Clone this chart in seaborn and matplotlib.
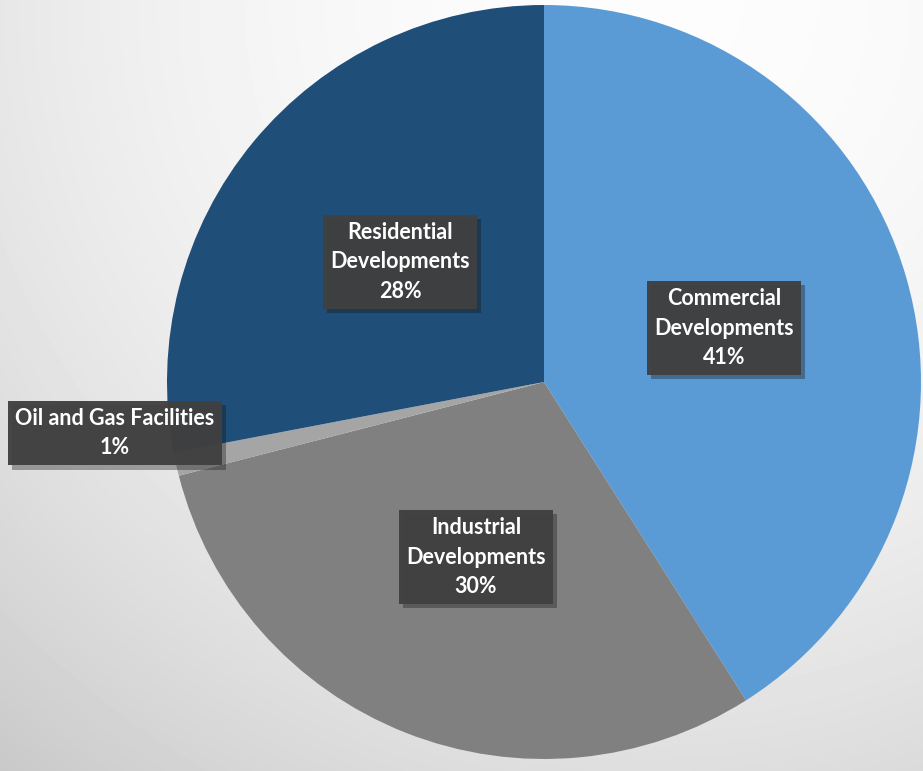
""" Share of developments by sector, pie chart """

import numpy as np
import matplotlib.pyplot as plt
import matplotlib.patheffects as pe
import seaborn as sns

sectors = ["Commercial\nDevelopments", "Industrial\nDevelopments",
           "Oil and Gas Facilities", "Residential\nDevelopments"]
shares = [41, 30, 1, 28]
colors = ["#5B9BD5", "#808080", "#A5A5A5", "#1F4E79"]


def background(fig):
    """ Soft radial grey gradient behind the chart """
    bg = fig.add_axes([0, 0, 1, 1], zorder=-1)
    yy, xx = np.mgrid[0:771, 0:923]
    d2 = (xx - 650.0) ** 2 + yy.astype(float) ** 2
    val = np.clip(0.99 - 2.0e-7 * d2, 0.77, 1.0)
    bg.imshow(val, cmap="gray", vmin=0, vmax=1, aspect="auto")
    bg.axis("off")


def main():
    """ Main Function """
    sns.set_theme(style="white")
    plt.rcParams["font.family"] = ["Lato", "DejaVu Sans"]

    fig = plt.figure(figsize=(9.23, 7.71), dpi=100)
    background(fig)

    r_px = 377
    ax = fig.add_axes([(544 - r_px) / 923, (771 - 382 - r_px) / 771,
                       2 * r_px / 923, 2 * r_px / 771])
    ax.pie(shares, colors=colors, startangle=90, counterclock=False,
           wedgeprops={"linewidth": 0})
    ax.set_xlim(-1, 1)
    ax.set_ylim(-1, 1)
    ax.axis("off")

    # label positions in figure pixels (from top-left)
    spots = [(724, 328), (476, 557), (115, 433), (400, 262)]
    for name, share, (px, py) in zip(sectors, shares, spots):
        txt = fig.text(px / 923, 1 - py / 771, "{}\n{}%".format(name, share),
                       ha="center", va="center", color="white",
                       fontsize=15.5, fontweight="bold", linespacing=1.5,
                       bbox=dict(boxstyle="square,pad=0.33", fc="#404040",
                                 ec="none", alpha=0.96))
        txt.get_bbox_patch().set_path_effects(
            [pe.SimplePatchShadow(offset=(3, -3), alpha=0.35), pe.Normal()])

    fig.savefig("out.png", dpi=100)


if __name__ == "__main__":
    main()
